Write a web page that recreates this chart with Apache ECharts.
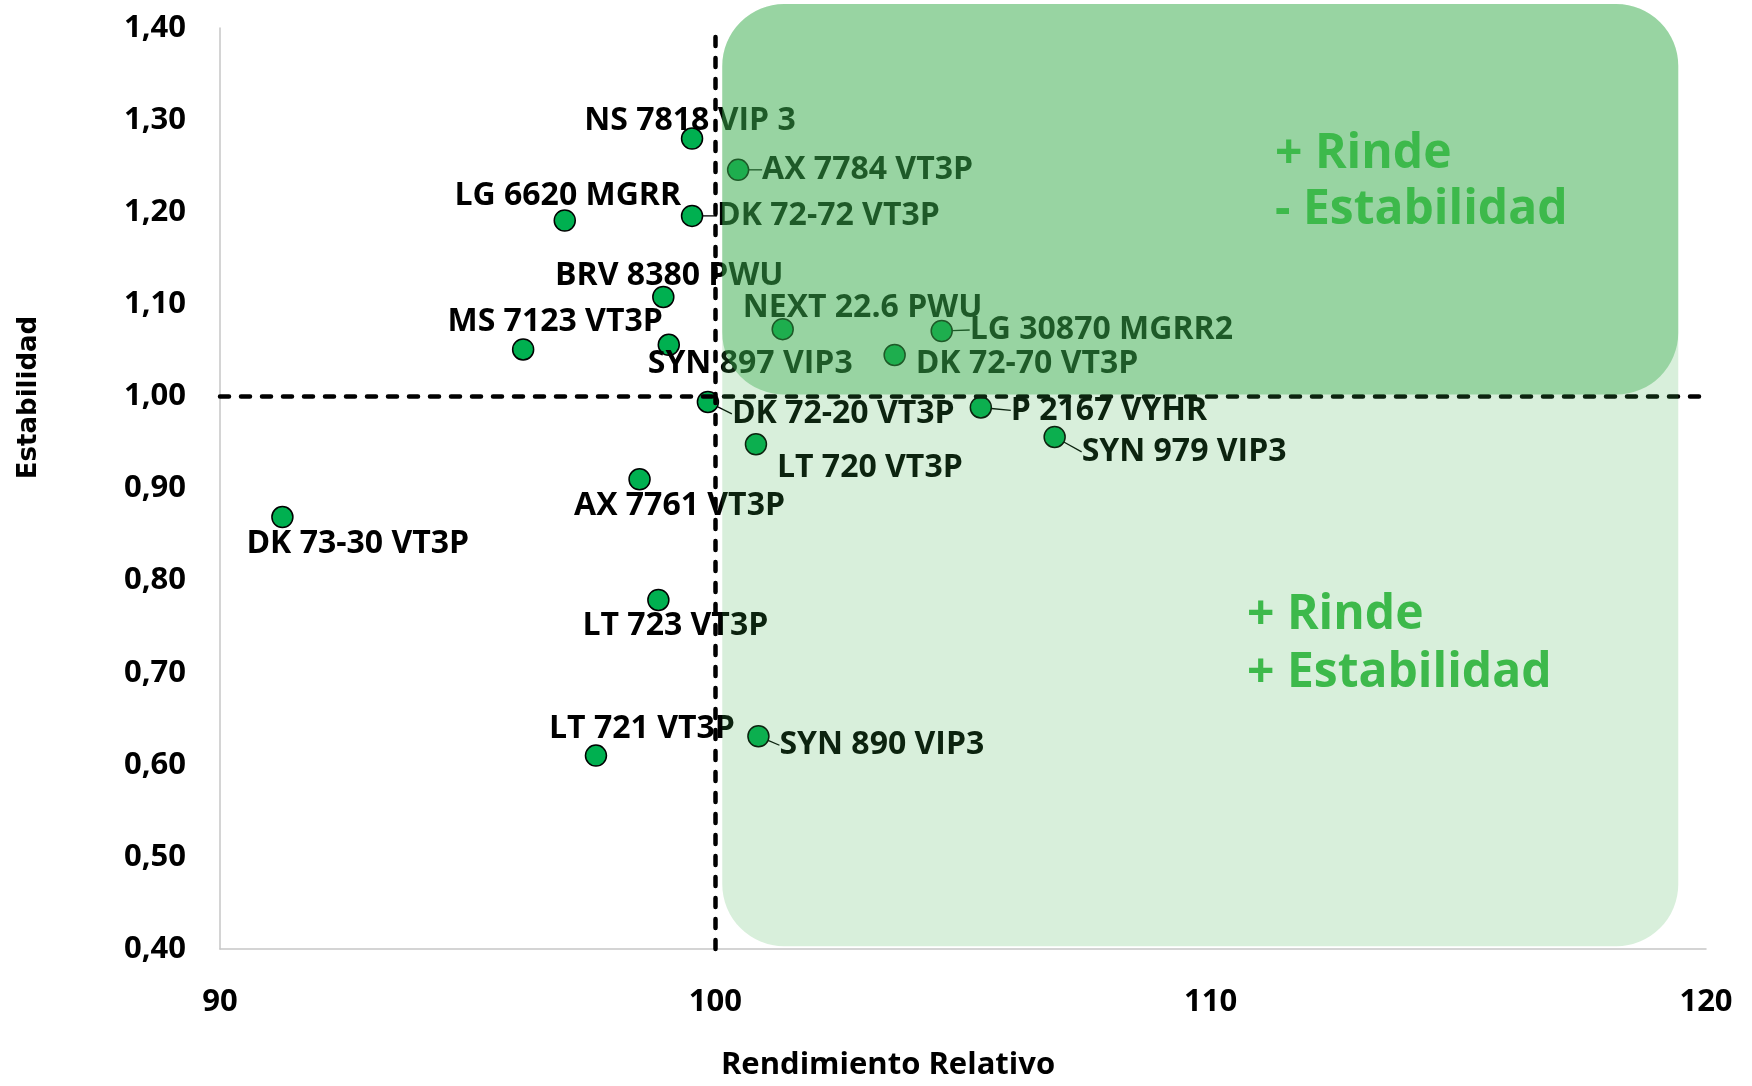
<!DOCTYPE html>
<html>
<head>
<meta charset="utf-8">
<script src="https://cdn.jsdelivr.net/npm/echarts@6/dist/echarts.min.js"></script>
<style>
html,body{margin:0;padding:0;background:#ffffff;}
#chart{width:1752px;height:1086px;}
</style>
</head>
<body>
<div id="chart"></div>
<script>
// ---------- DATA ----------
const hibridos = [
  'NS 7818 VIP 3', 'AX 7784 VT3P', 'LG 6620 MGRR', 'DK 72-72 VT3P', 'BRV 8380 PWU',
  'MS 7123 VT3P', 'SYN 897 VIP3', 'NEXT 22.6 PWU', 'LG 30870 MGRR2', 'DK 72-70 VT3P',
  'DK 72-20 VT3P', 'P 2167 VYHR', 'SYN 979 VIP3', 'LT 720 VT3P', 'AX 7761 VT3P',
  'DK 73-30 VT3P', 'LT 723 VT3P', 'LT 721 VT3P', 'SYN 890 VIP3'
];
const rendimientoRelativo = [
  99.53, 100.46, 96.96, 99.53, 98.95,
  96.12, 99.06, 101.36, 104.57, 103.62,
  99.85, 105.36, 106.85, 100.82, 98.47,
  91.26, 98.85, 97.59, 100.87
];
const estabilidad = [
  1.280, 1.246, 1.191, 1.196, 1.108,
  1.051, 1.056, 1.073, 1.071, 1.045,
  0.994, 0.988, 0.956, 0.948, 0.910,
  0.869, 0.779, 0.610, 0.631
];
const xTicks = [90, 100, 110, 120];
const yTicks = [0.4, 0.5, 0.6, 0.7, 0.8, 0.9, 1.0, 1.1, 1.2, 1.3, 1.4];
const referenciaX = 100;
const referenciaY = 1.00;
// quadrant zones: [x1, y1, x2, y2]
const zonaInferior = [100.14, 1.426, 119.44, 0.403];
const zonaSuperior = [100.14, 1.426, 119.44, 1.002];
const textoSuperior = ['+ Rinde', '- Estabilidad'];
const textoInferior = ['+ Rinde', '+ Estabilidad'];

// ---------- LABEL PLACEMENT (style only) ----------
// [align, dx, dy, leaderLine]
const placement = {
  'NS 7818 VIP 3':  ['center', -2, -18, false],
  'AX 7784 VT3P':   ['left', 24, 0, true],
  'LG 6620 MGRR':   ['center', 3, -25, false],
  'DK 72-72 VT3P':  ['left', 25, 0, true],
  'BRV 8380 PWU':   ['center', 6, -21, false],
  'MS 7123 VT3P':   ['center', 32, -28, false],
  'SYN 897 VIP3':   ['left', -21, 19, false],
  'NEXT 22.6 PWU':  ['left', -40, -21, false],
  'LG 30870 MGRR2': ['left', 28, -1, true],
  'DK 72-70 VT3P':  ['left', 21, 9, false],
  'DK 72-20 VT3P':  ['left', 24, 12, true],
  'P 2167 VYHR':    ['left', 30, 3, true],
  'SYN 979 VIP3':   ['left', 27, 15, true],
  'LT 720 VT3P':    ['left', 21, 24, false],
  'AX 7761 VT3P':   ['center', 40, 27, false],
  'DK 73-30 VT3P':  ['left', -36, 27, false],
  'LT 723 VT3P':    ['center', 17, 26, false],
  'LT 721 VT3P':    ['center', 46, -27, false],
  'SYN 890 VIP3':   ['left', 21, 9, true]
};

const LABEL_FONT = '"Open Sans", "Liberation Sans", sans-serif';

const scatterData = hibridos.map((n, i) => {
  const p = placement[n];
  return {
    name: n,
    value: [rendimientoRelativo[i], estabilidad[i]],
    label: { align: p[0], offset: [p[1], p[2]] },
    labelLine: { show: p[3] }
  };
});

const chart = echarts.init(document.getElementById('chart'), null, { renderer: 'canvas' });

const fmtY = v => Number(v).toFixed(2).replace('.', ',');

chart.setOption({
  animation: false,
  backgroundColor: '#ffffff',
  grid: { left: 220, right: 46, top: 28, bottom: 128, containLabel: false },
  xAxis: {
    type: 'value',
    min: xTicks[0], max: xTicks[xTicks.length - 1], interval: 10,
    name: 'Rendimiento Relativo',
    nameLocation: 'middle',
    nameGap: 101,
    nameTextStyle: { fontFamily: LABEL_FONT, fontWeight: 'bold', fontSize: 31, color: '#000', padding: [0, 150, 0, 0] },
    axisLine: { show: true, lineStyle: { color: '#c6c6c6', width: 1.5 } },
    axisTick: { show: false },
    splitLine: { show: false },
    axisLabel: { margin: 38, fontFamily: LABEL_FONT, fontWeight: 'bold', fontSize: 31, color: '#000' }
  },
  yAxis: {
    type: 'value',
    min: yTicks[0], max: yTicks[yTicks.length - 1], interval: 0.1,
    name: 'Estabilidad',
    nameLocation: 'middle',
    nameRotate: 90,
    nameGap: 178,
    nameTextStyle: { fontFamily: '"DejaVu Sans", sans-serif', fontWeight: 'bold', fontSize: 26, color: '#000', padding: [0, 0, 0, 182] },
    axisLine: { show: true, lineStyle: { color: '#c6c6c6', width: 1.5 } },
    axisTick: { show: false },
    splitLine: { show: false },
    axisLabel: { margin: 34, fontFamily: LABEL_FONT, fontWeight: 'bold', fontSize: 31, color: '#000', formatter: fmtY }
  },
  series: [
    {
      type: 'scatter',
      z: 2,
      symbol: 'circle',
      symbolSize: 21,
      silent: true,
      itemStyle: { color: '#00b050', borderColor: '#000', borderWidth: 1.5, opacity: 1 },
      label: {
        show: true,
        position: 'inside',
        formatter: p => p.name,
        fontFamily: LABEL_FONT,
        fontWeight: 'bold',
        fontSize: 32,
        color: '#000',
        verticalAlign: 'middle'
      },
      labelLine: { show: false, lineStyle: { color: '#000', width: 1.3 } },
      emphasis: { disabled: true },
      data: scatterData,
      markLine: {
        silent: true,
        symbol: ['none', 'none'],
        label: { show: false },
        lineStyle: { color: '#000', width: 4.5, type: [9, 12], cap: 'round' },
        emphasis: { disabled: true },
        data: [{ xAxis: referenciaX }, { yAxis: referenciaY }]
      }
    },
    {
      type: 'custom',
      z: 10,
      silent: true,
      clip: false,
      data: [zonaInferior, zonaSuperior],
      encode: { x: [0, 2], y: [1, 3] },
      renderItem: function (params, api) {
        const a = api.coord([api.value(0), api.value(1)]);
        const b = api.coord([api.value(2), api.value(3)]);
        return {
          type: 'rect',
          shape: { x: a[0], y: a[1], width: b[0] - a[0], height: b[1] - a[1], r: 62 },
          style: { fill: params.dataIndex === 1 ? 'rgba(58,173,77,0.40)' : 'rgba(58,173,77,0.20)' }
        };
      }
    }
  ],
  graphic: [
    {
      type: 'text', z: 100, left: 1275, top: 126, silent: true,
      style: { text: textoSuperior.join('\n'), fill: '#3db94b', font: 'bold 48px "Open Sans", sans-serif', lineHeight: 56 }
    },
    {
      type: 'text', z: 100, left: 1247, top: 586, silent: true,
      style: { text: textoInferior.join('\n'), fill: '#3db94b', font: 'bold 48px "Open Sans", sans-serif', lineHeight: 58 }
    }
  ]
});
</script>
</body>
</html>
